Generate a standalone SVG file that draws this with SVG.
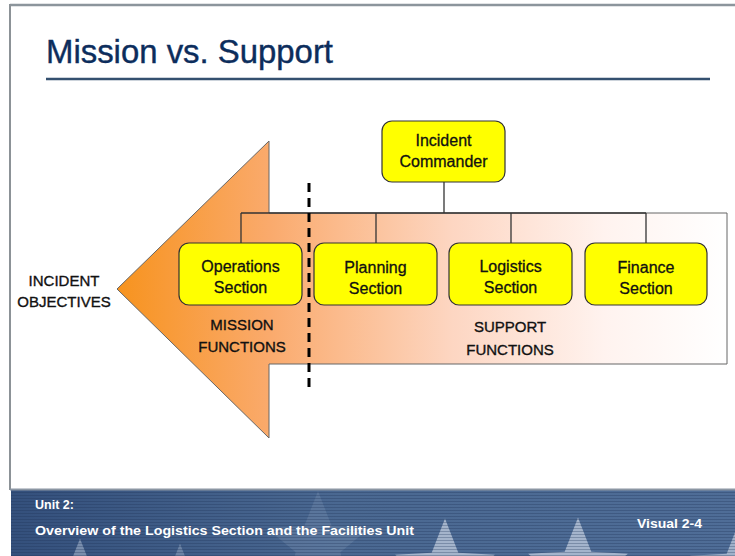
<svg xmlns="http://www.w3.org/2000/svg" xmlns:xlink="http://www.w3.org/1999/xlink" width="735" height="556" viewBox="0 0 735 556">
<defs>
<style>
.box{fill:#ffff00;stroke:#333;stroke-width:1.2}
.lbl{font-family:"Liberation Sans",Arial,sans-serif;font-size:16px;fill:#111;stroke:#111;stroke-width:0.3;text-anchor:middle}
.cap{font-family:"Liberation Sans",Arial,sans-serif;font-size:15px;fill:#111;stroke:#111;stroke-width:0.35;text-anchor:middle}
.conn{stroke:#333;stroke-width:1.3;fill:none}
.foot{font-family:"Liberation Sans",Arial,sans-serif;font-weight:bold;font-size:12.5px;fill:#fff}
</style>
<linearGradient id="arrowGrad" x1="117" y1="0" x2="727" y2="0" gradientUnits="userSpaceOnUse">
<stop offset="0" stop-color="#f7931e"/>
<stop offset="0.25" stop-color="#faaa6c"/>
<stop offset="0.55" stop-color="#fdd6c2"/>
<stop offset="0.8" stop-color="#fff3ef"/>
<stop offset="1" stop-color="#ffffff"/>
</linearGradient>
<linearGradient id="footGrad" x1="0" y1="0" x2="1" y2="0">
<stop offset="0" stop-color="#34507c"/>
<stop offset="0.45" stop-color="#4a6891"/>
<stop offset="1" stop-color="#4f6d97"/>
</linearGradient>
<pattern id="stripes" width="4" height="3" patternUnits="userSpaceOnUse">
<rect width="4" height="1" fill="#1e3358" opacity="0.3"/>
</pattern>
<polygon id="star" points="0,-30 7.6,-10.5 28.5,-9.3 12.4,4 17.6,24.3 0,13 -17.6,24.3 -12.4,4 -28.5,-9.3 -7.6,-10.5"/>
</defs>
<rect width="735" height="556" fill="#fff"/>
<line x1="10" y1="5" x2="735" y2="5" stroke="#8c959c" stroke-width="2.5"/>
<line x1="10" y1="4" x2="10" y2="490" stroke="#8c9297" stroke-width="2"/>
<text x="46" y="63" font-family="'Liberation Sans',Arial,sans-serif" font-size="34" fill="#0c2d5c" stroke="#0c2d5c" stroke-width="0.4" textLength="287" lengthAdjust="spacingAndGlyphs">Mission vs. Support</text>
<line x1="46" y1="79" x2="710" y2="79" stroke="#34506f" stroke-width="2.5"/>

<g id="arrow">
<path d="M117,289 L269,141 L269,213 L727,213 L727,364 L269,364 L269,438 Z" fill="url(#arrowGrad)" stroke="#666" stroke-width="1"/>
</g>

<g id="connectors">
<line class="conn" x1="444" y1="182" x2="444" y2="213"/>
<line class="conn" x1="241" y1="213" x2="646" y2="213"/>
<line class="conn" x1="241" y1="213" x2="241" y2="243"/>
<line class="conn" x1="376" y1="213" x2="376" y2="243"/>
<line class="conn" x1="511" y1="213" x2="511" y2="243"/>
<line class="conn" x1="646" y1="213" x2="646" y2="243"/>
</g>

<g id="divider">
<line x1="309" y1="183" x2="309" y2="388" stroke="#000" stroke-width="3" stroke-dasharray="9 6"/>
</g>

<g id="incident-commander">
<rect class="box" x="382" y="121" width="123" height="61" rx="10"/>
<text class="lbl" x="443.5" y="146">Incident</text>
<text class="lbl" x="443.5" y="167">Commander</text>
</g>
<g id="operations">
<rect class="box" x="179" y="243" width="123" height="62" rx="10"/>
<text class="lbl" x="240.5" y="272">Operations</text>
<text class="lbl" x="240.5" y="293">Section</text>
</g>
<g id="planning">
<rect class="box" x="314" y="243" width="123" height="62" rx="10"/>
<text class="lbl" x="375.5" y="273">Planning</text>
<text class="lbl" x="375.5" y="294">Section</text>
</g>
<g id="logistics">
<rect class="box" x="449" y="243" width="123" height="62" rx="10"/>
<text class="lbl" x="510.5" y="272">Logistics</text>
<text class="lbl" x="510.5" y="293">Section</text>
</g>
<g id="finance">
<rect class="box" x="585" y="243" width="122" height="62" rx="10"/>
<text class="lbl" x="646" y="273">Finance</text>
<text class="lbl" x="646" y="294">Section</text>
</g>

<g id="labels">
<text class="cap" x="64" y="286">INCIDENT</text>
<text class="cap" x="64" y="307">OBJECTIVES</text>
<text class="cap" x="242" y="330">MISSION</text>
<text class="cap" x="242" y="352">FUNCTIONS</text>
<text class="cap" x="510" y="332">SUPPORT</text>
<text class="cap" x="510" y="355">FUNCTIONS</text>
</g>

<g id="footer">
<rect x="11" y="489" width="724" height="67" fill="url(#footGrad)"/>
<g fill="#aebdd2">
<use href="#star" transform="translate(445,571) scale(1.75)" opacity="0.9"/>
<use href="#star" transform="translate(578,570) scale(1.75)" opacity="0.9"/>
<use href="#star" transform="translate(740,572) scale(1.75)" opacity="0.85"/>
<use href="#star" transform="translate(80,591) scale(1.75)" opacity="0.55"/>
<use href="#star" transform="translate(180,596) scale(1.75)" opacity="0.4"/>
<use href="#star" transform="translate(318,545) scale(1.8)" opacity="0.18"/>
</g>
<rect x="11" y="489" width="724" height="67" fill="url(#stripes)"/>
<line x1="10" y1="489.5" x2="735" y2="489.5" stroke="#8b96a3" stroke-width="2"/>
<text class="foot" x="35" y="509">Unit 2:</text>
<text class="foot" x="35" y="535" textLength="379" lengthAdjust="spacingAndGlyphs">Overview of the Logistics Section and the Facilities Unit</text>
<text class="foot" x="637" y="528" textLength="65" lengthAdjust="spacingAndGlyphs">Visual 2-4</text>
</g>
</svg>
